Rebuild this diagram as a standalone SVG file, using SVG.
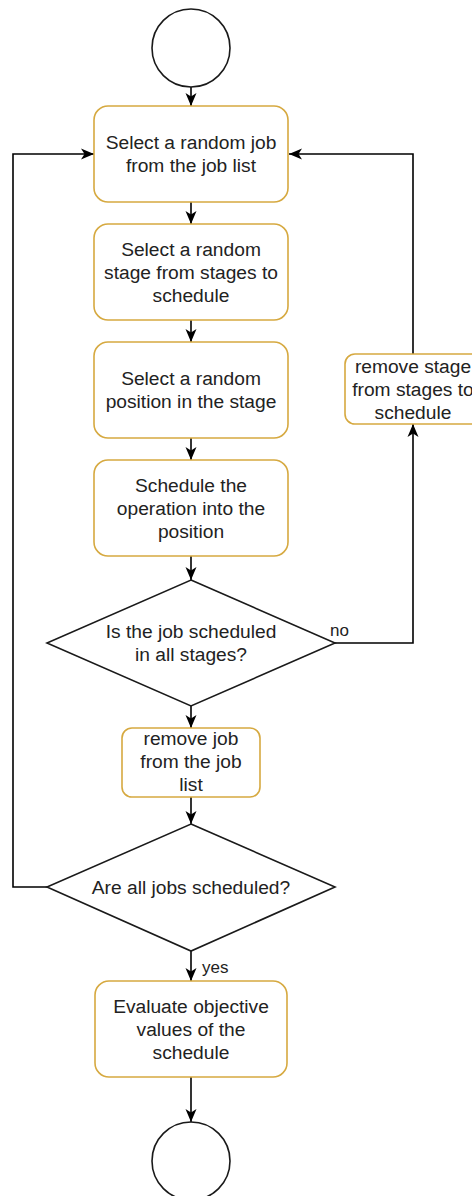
<svg xmlns="http://www.w3.org/2000/svg" width="472" height="1196" viewBox="0 0 472 1196">
<style>
.box{fill:#fff;stroke:#d6a940;stroke-width:1.6}
.term{fill:#fff;stroke:#1a1a1a;stroke-width:1.6}
.dec{fill:#fff;stroke:#1a1a1a;stroke-width:1.6}
.t{font-family:"Liberation Sans",Arial,sans-serif;font-size:19.2px;fill:#222;text-anchor:middle}
.lbl{font-family:"Liberation Sans",Arial,sans-serif;font-size:17px;fill:#222}
.e{fill:none;stroke:#000;stroke-width:1.6;marker-end:url(#arr)}
</style>
<defs>
<marker id="arr" markerUnits="userSpaceOnUse" markerWidth="14" markerHeight="12" refX="13" refY="6" orient="auto">
<path d="M0,0.5 L13,6 L0,11.5 L3.5,6 Z" fill="#000"/>
</marker>
</defs>
<rect width="472" height="1196" fill="#fff"/>
<g id="connectors">
<path class="e" d="M191,87 V106"/>
<path class="e" d="M191,202 V224"/>
<path class="e" d="M191,320 V342"/>
<path class="e" d="M191,438 V460"/>
<path class="e" d="M191,556 V580"/>
<path class="e" d="M191,706 V728"/>
<path class="e" d="M191,797 V824"/>
<path class="e" d="M191,951 V981"/>
<path class="e" d="M191,1077 V1122"/>
<path class="e" d="M335,643 H413 V424"/>
<path class="e" d="M413,354 V154 H289"/>
<path class="e" d="M47,887 H13 V154 H94"/>
<text class="lbl" x="330" y="636">no</text>
<text class="lbl" x="202" y="973">yes</text>
</g>
<g id="start"><circle class="term" cx="191" cy="48" r="39"/></g>
<g id="select-job">
<rect class="box" x="94" y="106" width="194" height="96" rx="14"/>
<text class="t" x="191" y="149">Select a random job</text>
<text class="t" x="191" y="172">from the job list</text>
</g>
<g id="select-stage">
<rect class="box" x="94" y="224" width="194" height="96" rx="14"/>
<text class="t" x="191" y="256">Select a random</text>
<text class="t" x="191" y="279">stage from stages to</text>
<text class="t" x="191" y="302">schedule</text>
</g>
<g id="select-position">
<rect class="box" x="94" y="342" width="194" height="96" rx="14"/>
<text class="t" x="191" y="385">Select a random</text>
<text class="t" x="191" y="408">position in the stage</text>
</g>
<g id="schedule-op">
<rect class="box" x="94" y="460" width="194" height="96" rx="14"/>
<text class="t" x="191" y="492">Schedule the</text>
<text class="t" x="191" y="515">operation into the</text>
<text class="t" x="191" y="538">position</text>
</g>
<g id="decision-stages">
<polygon class="dec" points="191,580 335,643 191,706 47,643"/>
<text class="t" x="191" y="638">Is the job scheduled</text>
<text class="t" x="191" y="661">in all stages?</text>
</g>
<g id="remove-stage">
<rect class="box" x="345" y="354" width="136" height="70" rx="10"/>
<text class="t" x="413" y="373">remove stage</text>
<text class="t" x="413" y="396">from stages to</text>
<text class="t" x="413" y="419">schedule</text>
</g>
<g id="remove-job">
<rect class="box" x="122" y="728" width="138" height="69" rx="10"/>
<text class="t" x="191" y="745">remove job</text>
<text class="t" x="191" y="768">from the job</text>
<text class="t" x="191" y="791">list</text>
</g>
<g id="decision-jobs">
<polygon class="dec" points="191,824 335,887 191,951 47,887"/>
<text class="t" x="191" y="894">Are all jobs scheduled?</text>
</g>
<g id="evaluate">
<rect class="box" x="95" y="981" width="192" height="96" rx="14"/>
<text class="t" x="191" y="1013">Evaluate objective</text>
<text class="t" x="191" y="1036">values of the</text>
<text class="t" x="191" y="1059">schedule</text>
</g>
<g id="end"><circle class="term" cx="191" cy="1161" r="39"/></g>
</svg>
